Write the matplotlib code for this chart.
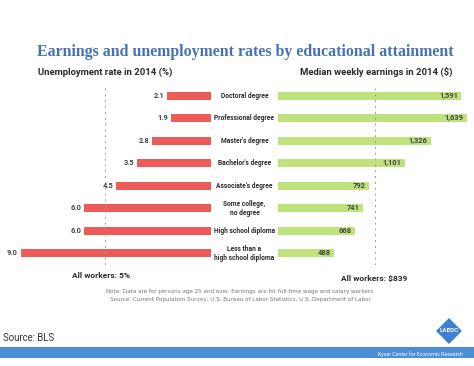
import numpy as np
import matplotlib

matplotlib.use("Agg")
from matplotlib import pyplot as plt
from matplotlib import transforms
from matplotlib.patches import Rectangle, Polygon

plt.rcParams['font.family'] = ['Roboto', 'DejaVu Sans']

categories = ["Doctoral degree", "Professional degree", "Master's degree",
              "Bachelor's degree", "Associate's degree", "Some college,\nno degree",
              "High school diploma", "Less than a\nhigh school diploma"]
unemployment = [2.1, 1.9, 2.8, 3.5, 4.5, 6.0, 6.0, 9.0]
earnings = [1591, 1639, 1326, 1101, 792, 741, 668, 488]
all_unemp = 5.0
all_earn = 839

RED = "#EC5B57"
GREEN = "#BEE27C"
TITLE_BLUE = "#4571B6"
DARK = "#2b2b2b"

W, H = 474, 366
fig = plt.figure(figsize=(W / 100, H / 100), dpi=100)
fig.patch.set_facecolor("white")


def fx(px):
    return px / W


def fy(px):
    return 1 - px / H


# axes placed in pixel terms
top, bot = 84.5, 264.5
axL = fig.add_axes([fx(11), fy(bot), fx(200), (bot - top) / H])
axR = fig.add_axes([fx(278), fy(bot), fx(192), (bot - top) / H])

y = np.arange(len(categories))

axL.barh(y, unemployment, height=0.37, color=RED, edgecolor="none")
axL.set_xlim(9.45, 0)
axL.set_ylim(len(categories) - 0.5, -0.5)
axL.axvline(all_unemp, color="#9a9a9a", lw=0.7, ls=(0, (2, 4)))
for yi, v in zip(y, unemployment):
    axL.text(v + 0.12, yi, f"{v:.1f}", ha="right", va="center",
             fontsize=5.4, fontweight="bold", color="#444444")

axR.barh(y, earnings, height=0.37, color=GREEN, edgecolor="none")
axR.set_xlim(0, 1665)
axR.set_ylim(len(categories) - 0.5, -0.5)
axR.axvline(all_earn, color="#9a9a9a", lw=0.7, ls=(0, (2, 4)))
for yi, v in zip(y, earnings):
    axR.text(v - 30, yi, f"{v:,}", ha="right", va="center",
             fontsize=5.4, fontweight="bold", color="#444444")

for ax in (axL, axR):
    ax.axis("off")

# category labels between the two panels
tr = transforms.blended_transform_factory(fig.transFigure, axR.transData)
for yi, c in zip(y, categories):
    fig.text(fx(244.5), yi, c, transform=tr, ha="center", va="center",
             fontsize=4.8, fontweight="bold", color=DARK, linespacing=1.2)

fig.text(fx(245), fy(52), "Earnings and unemployment rates by educational attainment",
         ha="center", va="center", fontsize=11.4, fontweight="bold",
         family="Liberation Serif", color=TITLE_BLUE)
fig.text(fx(38), fy(72), "Unemployment rate in 2014 (%)", ha="left", va="center",
         fontsize=6.8, fontweight="bold", color=DARK)
fig.text(fx(453), fy(72), "Median weekly earnings in 2014 ($)", ha="right", va="center",
         fontsize=6.8, fontweight="bold", color=DARK)

fig.text(fx(101), fy(276), "All workers: 5%", ha="center", va="center",
         fontsize=6.0, fontweight="bold", color=DARK)
fig.text(fx(374), fy(278), "All workers: $839", ha="center", va="center",
         fontsize=6.0, fontweight="bold", color=DARK)

fig.text(fx(240), fy(292), "Note: Data are for persons age 25 and over. Earnings are for full-time wage and salary workers.",
         ha="center", va="center", fontsize=4.1, color="#777777", family="DejaVu Sans")
fig.text(fx(240), fy(299.5), "Source: Current Population Survey, U.S. Bureau of Labor Statistics, U.S. Department of Labor",
         ha="center", va="center", fontsize=4.1, color="#777777", family="DejaVu Sans")

fig.text(fx(3), fy(338), "Source: BLS", ha="left", va="center",
         fontsize=6.9, color="#333333")

# blue footer band
fig.patches.append(Rectangle((0, fy(358)), 1, 11 / H, transform=fig.transFigure,
                             facecolor="#4C8ED6", edgecolor="none"))
fig.text(fx(463), fy(354.5), "Kyser Center for Economic Research", ha="right", va="center",
         fontsize=3.8, color="white")

# LAEDC logo diamond
cx, cy, r = 449, 331, 13
pts = [(fx(cx), fy(cy - r)), (fx(cx + r), fy(cy)), (fx(cx), fy(cy + r)), (fx(cx - r), fy(cy))]
fig.patches.append(Polygon(pts, closed=True, transform=fig.transFigure,
                           facecolor="#3F7FD0", edgecolor="none"))
fig.text(fx(cx), fy(cy), "LAEDC", ha="center", va="center", fontsize=4.5,
         fontweight="bold", color="white")

fig.savefig("out.png", dpi=100)
